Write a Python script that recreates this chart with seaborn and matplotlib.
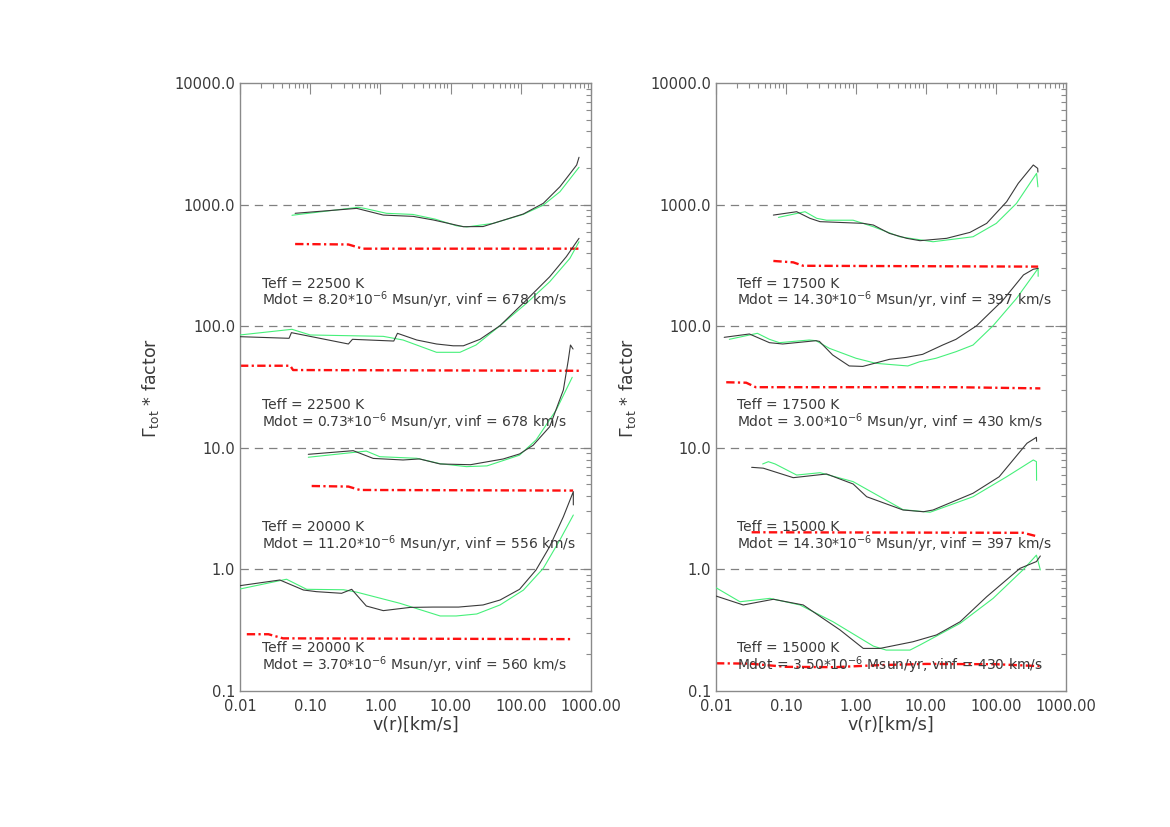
import numpy as np
import pandas as pd
import matplotlib
matplotlib.use("Agg")
import matplotlib.pyplot as plt
import seaborn as sns
from matplotlib.ticker import FixedLocator, FixedFormatter, LogLocator, NullFormatter

# ---------------- data: left panel ----------------
L1_black_x = [0.061, 0.46, 1.10, 2.94, 5.7, 15.2, 29, 108.6, 209, 361, 625, 675]
L1_black_y = [848, 931, 820, 800, 747, 658, 660, 837, 1024, 1403, 2117, 2450]
L1_green_x = [0.055, 0.48, 0.6, 1.22, 2.9, 6, 12.1, 17, 40, 108, 209, 361, 675]
L1_green_y = [817, 950, 930, 848, 830, 760, 670, 655, 700, 830, 990, 1276, 2027]
L1_red_x = [0.061, 0.35, 0.45, 0.57, 675]
L1_red_y = [474, 470, 450, 434, 434]

L2_black_x = [0.01, 0.05, 0.054, 0.35, 0.40, 1.55, 1.75, 3.3, 6.3, 10.9, 15.2, 26.2, 50.6, 120, 258, 445, 675]
L2_black_y = [82, 79.5, 88.5, 71.4, 78, 75.5, 87.4, 77, 71.4, 69, 69, 78, 101, 164, 255, 373, 528]
L2_green_x = [0.01, 0.055, 0.1, 1.1, 2.1, 6.3, 13.6, 23, 50.6, 120, 258, 500, 675]
L2_green_y = [84.7, 94.3, 84.7, 82.5, 77, 61, 61, 70, 101, 154, 232, 361, 495]
L2_red_x = [0.01, 0.052, 0.057, 675]
L2_red_y = [47.3, 47.3, 43.6, 43]

L3_black_x = [0.094, 0.41, 0.79, 2.1, 3.6, 7.1, 19.2, 56, 96, 150, 258, 404, 475, 510, 555]
L3_black_y = [8.84, 9.47, 8.18, 7.94, 8.1, 7.36, 7.26, 8.09, 8.9, 10.5, 14.9, 29.9, 52.7, 70, 64.9]
L3_green_x = [0.094, 0.63, 0.98, 3.3, 7.1, 16.8, 33, 96, 165, 320, 540]
L3_green_y = [8.36, 9.4, 8.45, 8.2, 7.4, 7.0, 7.1, 8.7, 11.6, 20.5, 38]
L3_red_x = [0.105, 0.35, 0.51, 556]
L3_red_y = [4.85, 4.8, 4.5, 4.45]

L4_black_x = [0.01, 0.037, 0.08, 0.123, 0.28, 0.39, 0.63, 1.1, 2.65, 5.6, 13, 29, 50.6, 96, 165, 258, 404, 560, 560]
L4_black_y = [0.735, 0.818, 0.677, 0.656, 0.636, 0.686, 0.5, 0.458, 0.487, 0.49, 0.49, 0.51, 0.56, 0.686, 0.99, 1.54, 2.71, 4.36, 3.39]
L4_green_x = [0.01, 0.046, 0.089, 0.3, 0.46, 1.9, 7.1, 12, 23.6, 50.6, 109, 209, 361, 560]
L4_green_y = [0.69, 0.83, 0.686, 0.68, 0.65, 0.526, 0.414, 0.414, 0.43, 0.51, 0.676, 1.02, 1.75, 2.8]
L4_red_x = [0.0125, 0.0254, 0.041, 560]
L4_red_y = [0.293, 0.293, 0.271, 0.267]

# ---------------- data: right panel ----------------
R1_black_x = [0.066, 0.142, 0.22, 0.306, 1.27, 1.77, 3.0, 5.3, 8.2, 19.7, 42.5, 73.6, 142, 208, 341, 394, 397]
R1_black_y = [820, 874, 771, 724, 701, 679, 580, 528, 505, 528, 591, 701, 1057, 1496, 2117, 1986, 1850]
R1_green_x = [0.078, 0.187, 0.275, 0.38, 0.91, 1.77, 4.2, 12.6, 47, 101, 196, 380, 397]
R1_green_y = [785, 874, 771, 744, 744, 658, 544, 495, 544, 701, 1023, 1808, 1400]
R1_red_x = [0.066, 0.127, 0.176, 400]
R1_red_y = [344, 335, 314, 309]

R2_black_x = [0.0131, 0.03, 0.058, 0.0897, 0.268, 0.3, 0.464, 0.80, 1.25, 3.0, 5.2, 8.96, 17.3, 26.8, 53, 126, 247, 341, 400]
R2_black_y = [81, 86.3, 73.2, 71.4, 76, 75, 58, 47.1, 46.7, 53.4, 55.4, 58.7, 70, 78, 101, 164, 264, 294, 299]
R2_green_x = [0.0155, 0.039, 0.058, 0.0805, 0.215, 0.268, 0.416, 1.0, 1.93, 5.5, 8.1, 13.9, 26.8, 47, 91, 196, 400, 400]
R2_green_y = [78, 87.4, 78, 73.2, 77, 76, 65.8, 54.5, 49.5, 47.1, 51, 54.5, 61.7, 70, 101, 169, 299, 257]
R2_red_x = [0.014, 0.027, 0.037, 26.8, 430]
R2_red_y = [34.6, 34.3, 31.5, 31.5, 30.8]

R3_black_x = [0.0323, 0.0473, 0.127, 0.38, 0.91, 1.42, 4.7, 9.2, 12.6, 47, 111, 277, 378, 380]
R3_black_y = [6.91, 6.8, 5.68, 6.09, 5.04, 3.96, 3.08, 2.98, 3.08, 4.23, 5.78, 10.9, 12.2, 11.3]
R3_green_x = [0.0464, 0.056, 0.07, 0.142, 0.306, 0.91, 4.7, 11.4, 47, 142, 341, 378, 380]
R3_green_y = [7.36, 7.69, 7.36, 5.97, 6.24, 5.27, 3.1, 2.95, 3.96, 5.78, 7.94, 7.69, 5.4]
R3_red_x = [0.0323, 245, 400]
R3_red_y = [2.02, 2.0, 1.86]

R4_black_x = [0.01, 0.0245, 0.066, 0.176, 0.59, 1.27, 2.2, 6.5, 14.1, 30.7, 73.6, 220, 378, 430]
R4_black_y = [0.604, 0.51, 0.568, 0.51, 0.318, 0.224, 0.224, 0.254, 0.289, 0.371, 0.596, 1.02, 1.16, 1.29]
R4_green_x = [0.01, 0.022, 0.059, 0.158, 0.47, 1.77, 2.7, 5.9, 8.2, 30.7, 91, 247, 378, 430]
R4_green_y = [0.707, 0.542, 0.578, 0.51, 0.371, 0.234, 0.217, 0.217, 0.239, 0.36, 0.578, 1.0, 1.31, 0.99]
R4_red_x = [0.01, 0.03, 0.1, 0.5, 2, 10, 100, 430]
R4_red_y = [0.169, 0.168, 0.158, 0.157, 0.163, 0.167, 0.166, 0.16]

# annotation values
left_teff = [22500, 22500, 20000, 20000]
left_mdot = ["8.20", "0.73", "11.20", "3.70"]
left_vinf = [678, 678, 556, 560]
right_teff = [17500, 17500, 15000, 15000]
right_mdot = ["14.30", "3.00", "14.30", "3.50"]
right_vinf = [397, 430, 397, 430]

ref_levels = [1, 10, 100, 1000]
x_ticks = [0.01, 0.1, 1, 10, 100, 1000]
x_ticklabels = ["0.01", "0.10", "1.00", "10.00", "100.00", "1000.00"]
y_ticks = [0.1, 1, 10, 100, 1000, 10000]
y_ticklabels = ["0.1", "1.0", "10.0", "100.0", "1000.0", "10000.0"]

left_groups = [
    (L1_black_x, L1_black_y, L1_green_x, L1_green_y, L1_red_x, L1_red_y),
    (L2_black_x, L2_black_y, L2_green_x, L2_green_y, L2_red_x, L2_red_y),
    (L3_black_x, L3_black_y, L3_green_x, L3_green_y, L3_red_x, L3_red_y),
    (L4_black_x, L4_black_y, L4_green_x, L4_green_y, L4_red_x, L4_red_y),
]
right_groups = [
    (R1_black_x, R1_black_y, R1_green_x, R1_green_y, R1_red_x, R1_red_y),
    (R2_black_x, R2_black_y, R2_green_x, R2_green_y, R2_red_x, R2_red_y),
    (R3_black_x, R3_black_y, R3_green_x, R3_green_y, R3_red_x, R3_red_y),
    (R4_black_x, R4_black_y, R4_green_x, R4_green_y, R4_red_x, R4_red_y),
]

sns.set_style("white")
plt.rcParams["font.family"] = ["DejaVu Sans"]
plt.rcParams["lines.scale_dashes"] = False
plt.rcParams["mathtext.fontset"] = "dejavusans"

TXT = "#3a3a3a"
FRAME = "#8a8a8a"
GREEN = "#46f07a"
BLACK = "#3a3a3a"
RED = "#ff1010"

fig = plt.figure(figsize=(11.7, 8.27), dpi=100)
ax_l = fig.add_axes([240 / 1170, 1 - 691 / 827, 351 / 1170, 608 / 827])
ax_r = fig.add_axes([716 / 1170, 1 - 691 / 827, 350 / 1170, 608 / 827])

text_y = [(0.670, 0.642), (0.470, 0.442), (0.270, 0.242), (0.070, 0.042)]


def draw_panel(ax, groups, teffs, mdots, vinfs, text_x, ylab_x):
    ax.set_xscale("log")
    ax.set_yscale("log")
    for lev in ref_levels:
        ax.axhline(lev, color="#808080", lw=0.9, linestyle=(0, (6, 4.3)), zorder=1)
    for (bx, by, gx, gy, rx, ry) in groups:
        sns.lineplot(x=rx, y=ry, ax=ax, color=RED, lw=1.7, estimator=None, sort=False,
                     linestyle=(0, (6, 2.4, 1.6, 2.4)), zorder=2)
        sns.lineplot(x=gx, y=gy, ax=ax, color=GREEN, lw=0.8, estimator=None, sort=False, zorder=3)
        sns.lineplot(x=bx, y=by, ax=ax, color=BLACK, lw=0.8, estimator=None, sort=False, zorder=4)
    ax.set_xlim(0.01, 1000)
    ax.set_ylim(0.1, 10000)
    ax.xaxis.set_major_locator(FixedLocator(x_ticks))
    ax.xaxis.set_major_formatter(FixedFormatter(x_ticklabels))
    ax.xaxis.set_minor_locator(LogLocator(base=10, subs=np.arange(2, 10), numticks=20))
    ax.xaxis.set_minor_formatter(NullFormatter())
    ax.yaxis.set_major_locator(FixedLocator(y_ticks))
    ax.yaxis.set_major_formatter(FixedFormatter(y_ticklabels))
    ax.yaxis.set_minor_locator(LogLocator(base=10, subs=np.arange(2, 10), numticks=20))
    ax.yaxis.set_minor_formatter(NullFormatter())
    ax.tick_params(which="both", direction="in", top=True, right=True,
                   color=FRAME, width=0.8, labelcolor=TXT, labelsize=10.5)
    ax.tick_params(axis="x", which="major", length=8, pad=6)
    ax.tick_params(axis="x", which="minor", length=3.6)
    ax.tick_params(axis="y", which="major", length=8, pad=3.5)
    ax.tick_params(axis="y", which="minor", length=3.6)
    for sp in ax.spines.values():
        sp.set_color(FRAME)
        sp.set_linewidth(1.0)
    ax.set_xlabel("v(r)[km/s]", fontsize=12.5, color=TXT)
    ax.set_ylabel(r"$\Gamma_{\rm tot}$ * factor", fontsize=12.5, color=TXT)
    ax.xaxis.set_label_coords(0.5, -0.056)
    ax.xaxis.label.set_va("center")
    ax.yaxis.set_label_coords(ylab_x, 0.498)
    ax.yaxis.label.set_va("center")
    for i in range(4):
        y1, y2 = text_y[i]
        ax.text(text_x, y1, f"Teff = {teffs[i]} K", transform=ax.transAxes,
                fontsize=10, color=TXT, va="center", ha="left", zorder=6)
        ax.text(text_x, y2,
                f"Mdot = {mdots[i]}*10$^{{-6}}$ Msun/yr, vinf = {vinfs[i]} km/s",
                transform=ax.transAxes, fontsize=10,
                color=TXT, va="center", ha="left", zorder=6)


draw_panel(ax_l, left_groups, left_teff, left_mdot, left_vinf, 0.062, -0.254)
draw_panel(ax_r, right_groups, right_teff, right_mdot, right_vinf, 0.059, -0.254)

fig.savefig("out.png", dpi=100, facecolor="white")
